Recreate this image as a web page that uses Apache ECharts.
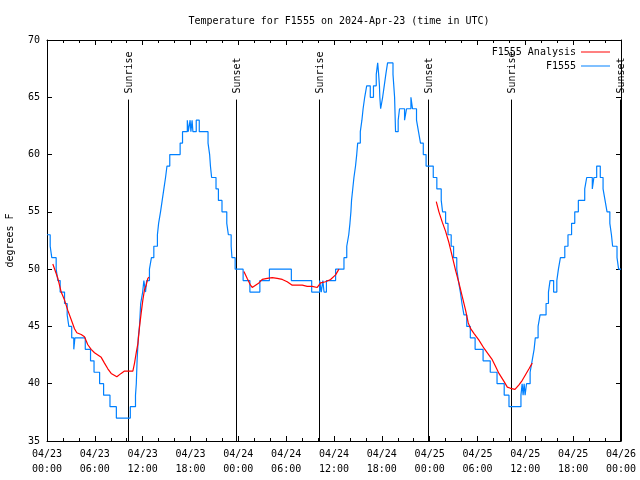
<!DOCTYPE html>
<html>
<head>
<meta charset="utf-8">
<script src="https://cdn.jsdelivr.net/npm/echarts@6/dist/echarts.min.js"></script>
<style>
html,body{margin:0;padding:0;background:#fff;}
#chart{width:640px;height:480px;}
</style>
</head>
<body>
<div id="chart"></div>
<script>
// ---- data (hours since 2024-04-23 00:00 UTC) ----
const xTickLabels = ['04/23\n00:00','04/23\n06:00','04/23\n12:00','04/23\n18:00',
  '04/24\n00:00','04/24\n06:00','04/24\n12:00','04/24\n18:00',
  '04/25\n00:00','04/25\n06:00','04/25\n12:00','04/25\n18:00','04/26\n00:00'];
const yTickValues = [35, 40, 45, 50, 55, 60, 65, 70];

const sunEventHours = [10.13, 23.72, 34.1, 47.78, 58.15, 71.83];
const sunEventNames = ['Sunrise', 'Sunset', 'Sunrise', 'Sunset', 'Sunrise', 'Sunset'];

// F1555 observations: hour at which the reading changes, and the new reading
const blueHours = [0,0.4,0.6,1.15,1.36,1.65,2.2,2.53,2.74,3.1,3.36,3.5,4.8,5.46,5.9,6.6,7.1,7.9,8.7,
  10.45,11.1,11.2,11.3,11.45,11.6,11.75,12.0,12.15,12.36,12.5,12.85,13.1,13.4,13.85,14.0,14.24,14.45,
  14.66,14.87,15.05,15.4,16.7,17.0,17.6,17.72,17.95,18.05,18.2,18.3,18.72,19.1,20.2,20.4,20.5,20.65,
  21.2,21.5,21.95,22.55,22.75,23.1,23.2,23.6,24.6,25.45,26.7,27.9,30.65,33.2,34.2,34.4,34.6,34.75,
  35.05,36.2,37.25,37.6,37.85,38.0,38.12,38.2,38.35,38.5,38.7,38.85,38.97,39.3,39.5,39.65,39.85,40.1,
  40.55,40.95,41.3,41.48,41.6,41.7,41.75,41.85,42.1,42.3,42.5,42.72,43.4,43.6,43.72,44.05,44.22,44.85,
  45.1,45.65,45.85,46.35,46.6,46.85,47.2,47.55,48.45,48.9,49.45,49.62,50.0,50.3,50.7,51.0,51.4,51.6,
  51.85,52.05,52.3,52.65,53.1,53.7,54.7,55.6,56.45,57.35,57.95,59.45,59.6,59.72,59.85,59.97,60.15,
  60.6,60.85,61.1,61.25,61.6,61.85,62.6,62.9,63.1,63.55,63.95,64.15,64.4,64.95,65.35,65.8,66.2,66.65,
  67.45,67.7,68.4,68.6,68.95,69.4,69.75,70.0,70.25,70.6,70.8,70.95,71.5,71.7,72];
const blueTemps = [53,52,51,50,49,48,47,46,45,44,43,44,43,42,41,40,39,38,37,
  38,39,40,42,44,45,47,48,49,48,49,50,51,52,53,54,55,56,
  57,58,59,60,61,62,63,62,63,62,63,62,63,62,61,60,59,58,
  57,56,55,54,53,52,51,50,49,48,49,50,49,48,49,48,49,48,
  49,50,51,52,53,54,55,56,57,58,59,60,61,62,63,64,65,66,
  65,66,67,68,67,66,65,64,65,66,67,68,67,65,62,63,64,63,
  64,65,64,63,62,61,60,59,58,57,56,55,54,53,52,51,50,49,
  48,47,46,45,44,43,42,41,40,39,38,39,40,39,40,39,40,
  41,42,43,44,45,46,47,48,49,48,49,50,51,52,53,54,55,56,
  57,58,57,58,59,58,57,56,55,54,53,52,51,50,50];

// F1555 Analysis (null = gap between analysis runs)
const analysisHours = [0.73,1.36,1.78,2.2,2.61,3.03,3.45,3.74,4.29,4.7,5.12,5.54,5.96,6.8,7.21,7.63,8.05,
  8.76,9.3,9.72,10.14,10.77,10.98,11.19,11.4,11.61,11.82,12.02,12.23,12.44,12.65,12.8,
  18.0,
  24.7,25.1,25.53,25.74,26.16,26.58,27.0,27.62,28.25,28.88,29.51,30.13,30.76,31.39,32.02,32.64,
  33.27,33.9,34.32,34.94,35.57,36.2,36.62,
  42.0,
  48.83,49.16,49.58,50.0,50.42,50.84,51.25,51.67,52.09,52.51,52.84,53.14,53.55,54.18,54.81,55.44,
  55.85,56.27,56.69,57.32,57.74,58.15,58.7,59.2,59.62,60.04,60.46,60.87];
const analysisTemps = [50.45,49.2,48.0,47.3,46.4,45.6,44.8,44.45,44.3,44.1,43.4,43.0,42.7,42.3,41.8,41.3,40.9,
  40.6,40.9,41.1,41.1,41.1,41.8,42.7,43.5,45.0,46.2,47.3,48.2,48.6,49.2,49.3,
  null,
  49.8,49.2,48.6,48.4,48.6,48.8,49.1,49.2,49.26,49.2,49.1,48.9,48.6,48.6,48.6,48.5,
  48.5,48.4,48.8,48.9,49.1,49.5,50.0,
  null,
  55.9,55.0,54.1,53.3,52.3,51.1,49.9,48.8,47.6,46.4,45.3,44.8,44.4,43.8,43.1,42.5,
  42.1,41.5,40.9,40.2,39.7,39.6,39.5,39.9,40.3,40.8,41.3,41.8];

// ---- chart ----
const FONT = '"DejaVu Sans Mono", "Liberation Mono", monospace';
const txt = {fontFamily: FONT, fontSize: 10, color: '#000'};

const blueData = blueHours.map((h, i) => [h, blueTemps[i]]);
const analysisData = analysisHours.map((h, i) => [h, analysisTemps[i] === null ? '-' : analysisTemps[i]]);
const sunData = sunEventHours.map((h, i) => ({value: [h], name: sunEventNames[i]}));

const xCommon = {
  type: 'value', min: 0, max: 72, interval: 6,
  axisLine: {show: true, onZero: false, lineStyle: {color: '#000', width: 1}},
  axisTick: {show: true, inside: true, length: 5, lineStyle: {color: '#000'}},
  minorTick: {show: true, splitNumber: 3, length: 3, lineStyle: {color: '#000'}},
  splitLine: {show: false}, minorSplitLine: {show: false}
};
const yCommon = {
  type: 'value', min: yTickValues[0], max: yTickValues[yTickValues.length - 1], interval: 5,
  axisLine: {show: true, onZero: false, lineStyle: {color: '#000', width: 1}},
  axisTick: {show: true, inside: true, length: 5, lineStyle: {color: '#000'}},
  splitLine: {show: false}
};

const chart = echarts.init(document.getElementById('chart'), null, {renderer: 'canvas'});
chart.setOption({
  animation: false,
  backgroundColor: '#fff',
  title: {
    text: 'Temperature for F1555 on 2024-Apr-23 (time in UTC)',
    left: 334, top: 11, textAlign: 'center',
    textStyle: {fontFamily: FONT, fontSize: 10, fontWeight: 'normal', color: '#000'}
  },
  grid: {left: 47, right: 19, top: 40, bottom: 39, containLabel: false, outerBoundsMode: 'none'},
  legend: [
    {data: ['F1555 Analysis'], right: 25, top: 42, orient: 'vertical', align: 'right',
     icon: 'rect', itemWidth: 29, itemHeight: 1, textStyle: txt, selectedMode: false},
    {data: ['F1555'], right: 25, top: 56, orient: 'vertical', align: 'right',
     icon: 'rect', itemWidth: 29, itemHeight: 1, textStyle: txt, selectedMode: false}
  ],
  xAxis: [
    Object.assign({}, xCommon, {
      position: 'bottom',
      axisLabel: {show: true, margin: 6, lineHeight: 15, fontFamily: FONT, fontSize: 10, color: '#000',
        formatter: v => xTickLabels[Math.round(v / 6)]}
    }),
    Object.assign({}, xCommon, {position: 'top', axisLabel: {show: false}})
  ],
  yAxis: [
    Object.assign({}, yCommon, {
      position: 'left',
      name: 'degrees F', nameLocation: 'middle', nameGap: 32, nameRotate: 90,
      nameTextStyle: {fontFamily: FONT, fontSize: 10, color: '#000'},
      axisLabel: {show: true, margin: 7, fontFamily: FONT, fontSize: 10, color: '#000'}
    }),
    Object.assign({}, yCommon, {position: 'right', axisLabel: {show: false}})
  ],
  series: [
    {
      name: 'sun', type: 'custom', z: 1, silent: true,
      data: sunData,
      renderItem: function (params, api) {
        const h = api.value(0);
        const top = api.coord([h, 64.8]);
        const bot = api.coord([h, 35]);
        const x = Math.round(top[0]) + 0.5;
        return {
          type: 'group',
          children: [
            {type: 'line', shape: {x1: x, y1: top[1], x2: x, y2: bot[1]},
             style: {stroke: '#000', lineWidth: 1}},
            {type: 'text', x: x + 1, y: top[1] - 6, rotation: Math.PI / 2,
             style: {text: sunEventNames[params.dataIndex], align: 'left', verticalAlign: 'middle',
                     textAlign: 'left', textVerticalAlign: 'middle',
                     fill: '#000', font: '10px ' + FONT}}
          ]
        };
      }
    },
    {
      name: 'F1555', type: 'line', step: 'end', z: 2,
      showSymbol: false, symbol: 'none',
      color: '#0080ff',
      lineStyle: {color: '#0080ff', width: 1.2},
      data: blueData
    },
    {
      name: 'F1555 Analysis', type: 'line', z: 3,
      showSymbol: false, symbol: 'none', connectNulls: false,
      color: '#ff0000',
      lineStyle: {color: '#ff0000', width: 1.2},
      data: analysisData
    }
  ]
});
</script>
</body>
</html>
